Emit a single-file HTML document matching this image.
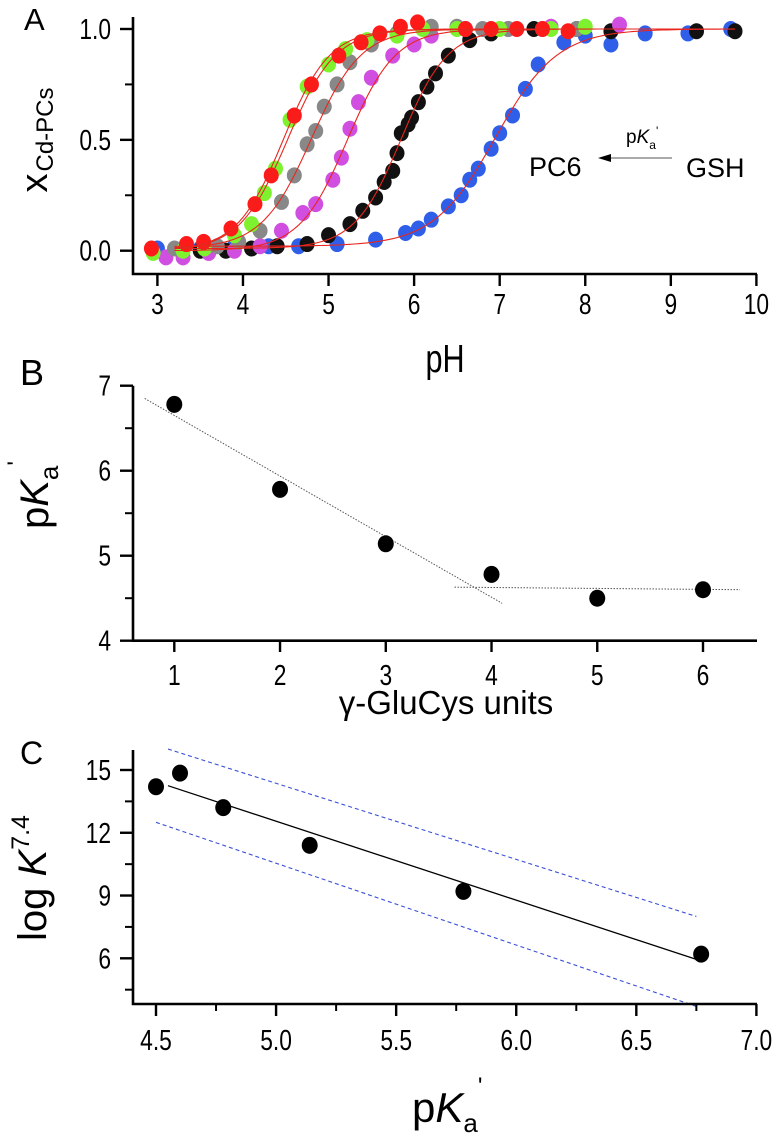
<!DOCTYPE html>
<html><head><meta charset="utf-8"><style>
html,body{margin:0;padding:0;background:#fff;}
svg{display:block;font-family:"Liberation Sans",sans-serif;}
</style></head><body>
<svg id="fig" width="776" height="1133" viewBox="0 0 776 1133" xmlns="http://www.w3.org/2000/svg">
<g id="A"></g>
<g id="B"></g>
<g id="C"></g>
</svg>
<script>
// ---------- Panel A data ----------
const seriesNames = ["GSH","PC2","PC3","PC4","PC6","PC5"];
const seriesColors = ["#2f5fe8","#111111","#d04ee0","#888888","#7ef22e","#ff1a1a"];
const phBlue = [3.0,3.5,3.9,4.3,4.65,5.1,5.55,5.9,6.05,6.2,6.4,6.55,6.65,6.75,6.9,7.0,7.15,7.3,7.45,7.75,8.0,8.3,8.7,9.2,9.7];
const xBlue  = [0.01,0.01,0.02,0.02,0.02,0.03,0.05,0.08,0.1,0.14,0.2,0.25,0.32,0.37,0.46,0.53,0.61,0.73,0.84,0.94,0.97,0.93,0.98,0.98,1.0];
const phBlack = [3.5,3.8,4.1,4.4,4.75,5.0,5.25,5.4,5.55,5.65,5.75,5.8,5.85,5.93,5.97,6.05,6.15,6.25,6.4,6.65,6.9,7.4,7.9,8.3,9.3,9.75];
const xBlack  = [0.0,0.0,0.01,0.02,0.03,0.07,0.12,0.18,0.24,0.31,0.36,0.44,0.53,0.57,0.6,0.67,0.74,0.8,0.88,0.95,0.98,1.0,1.0,0.99,0.99,0.99];
const phMag = [3.1,3.3,3.6,3.9,4.2,4.45,4.7,4.85,5.05,5.15,5.25,5.35,5.5,5.75,6.0,6.2,6.6,7.1,7.6,8.4];
const xMag  = [-0.03,-0.03,-0.01,0.0,0.02,0.09,0.17,0.21,0.32,0.42,0.55,0.67,0.78,0.88,0.93,0.97,1.0,1.0,1.01,1.02];
const phGray = [3.2,3.7,3.95,4.2,4.45,4.6,4.75,4.85,4.95,5.1,5.25,5.5,5.8,6.2,6.5,6.8,7.1,7.5,7.9];
const xGray  = [0.01,0.02,0.04,0.09,0.22,0.34,0.48,0.54,0.65,0.75,0.85,0.93,0.98,1.01,1.01,1.0,1.0,1.0,1.0];
const phGreen = [2.95,3.3,3.55,3.9,4.1,4.25,4.38,4.55,4.75,5.0,5.2,5.45,5.8,6.1,6.5,7.0,7.6,8.0];
const xGreen  = [-0.01,0.0,0.01,0.07,0.12,0.26,0.37,0.59,0.74,0.84,0.91,0.95,0.97,1.0,1.0,1.0,1.0,1.01];
const phRed = [2.93,3.34,3.54,3.86,4.14,4.33,4.6,4.8,5.12,5.38,5.6,5.84,6.04,6.6,6.9,7.2,7.5,7.8];
const xRed  = [0.01,0.03,0.04,0.10,0.21,0.34,0.61,0.75,0.88,0.94,0.98,1.01,1.03,1.0,1.0,1.0,1.0,0.99];
// fit parameters per series: midpoint pH, Hill n, baseline, end pH
const fitPka = [6.95,5.85,5.22,4.8,4.52,4.47];
const fitN   = [1.2,1.6,1.55,1.5,1.55,1.6];
const fitLow = [0.02,0.01,0.0,0.01,0.0,0.0];
const fitEnd = [9.75,9.75,8.4,8.0,8.0,7.8];
const aXTicks = [3,4,5,6,7,8,9,10];
const aYTicks = [0.0,0.5,1.0];
const aYTickLabels = ["0.0","0.5","1.0"];
// ---------- Panel B data ----------
const bUnits = [1,2,3,4,5,6];
const bPka = [6.78,5.78,5.14,4.78,4.5,4.6];
const bLine1X = [0.72,4.1], bLine1Y = [6.85,4.44];
const bLine2X = [3.65,6.35], bLine2Y = [4.63,4.6];
const bXTicks = [1,2,3,4,5,6];
const bYTicks = [4,5,6,7];
// ---------- Panel C data ----------
const cPka = [4.5,4.6,4.78,5.14,5.78,6.77];
const cLogK = [14.2,14.85,13.2,11.4,9.2,6.2];
const cFitX = [4.55,6.75], cFitY = [14.25,5.95];
const cUpX = [4.55,6.75], cUpY = [16.0,8.0];
const cLoX = [4.5,6.75], cLoY = [12.5,3.7];
const cXTicks = [4.5,5.0,5.5,6.0,6.5,7.0];
const cXTickLabels = ["4.5","5.0","5.5","6.0","6.5","7.0"];
const cYTicks = [6,9,12,15];

const NS="http://www.w3.org/2000/svg";
function mk(tag,attrs,parent){const e=document.createElementNS(NS,tag);for(const k in attrs)e.setAttribute(k,attrs[k]);parent.appendChild(e);return e;}
function lin(d0,d1,r0,r1){return v=>r0+(v-d0)*(r1-r0)/(d1-d0);}
function tickText(g,x,y,anchor,str){
 const t=mk('text',{transform:'translate('+x+','+y+') scale(0.95,1.18)','font-size':24,'text-anchor':anchor},g);
 t.textContent=str;
 return t;
}

// ===== Panel A =====
(function(){
 const g=document.getElementById('A');
 const X=lin(3,10,157.4,756.4), Y=lin(0,1,250.7,29);
 const P=[[phBlue,xBlue],[phBlack,xBlack],[phMag,xMag],[phGray,xGray],[phGreen,xGreen],[phRed,xRed]];
 P.forEach((s,i)=>{
  const sg=mk('g',{},g);
  
  
  s[0].forEach((p,j)=>{
   const c=mk('ellipse',{cx:X(p),cy:Y(s[1][j]),rx:7.5,ry:8,fill:seriesColors[i]},sg);
   
   
  });
 });
 fitPka.forEach((pk,i)=>{
  let d='';
  for(let p=3.2;p<=fitEnd[i]+1e-9;p+=0.05){
   const v=fitLow[i]+(1-fitLow[i])/(1+Math.pow(10,fitN[i]*(pk-p)));
   d+=(d?'L':'M')+X(p).toFixed(1)+','+Y(v).toFixed(1);
  }
  const l=mk('path',{d:d,fill:'none',stroke:'#e8261e','stroke-width':1.1},g);
  
  
 });
 const ax=mk('path',{d:'M133,17 V274 H757',fill:'none',stroke:'#000','stroke-width':2.6},g);
 
 
 aXTicks.forEach(t=>{
  mk('line',{x1:X(t),x2:X(t),y1:274,y2:286,stroke:'#000','stroke-width':2.4},g);
  const tx=tickText(g,X(t),314,'middle',t);
  
  
 });
 [0.25,0.75].forEach(t=>mk('line',{x1:125,x2:133,y1:Y(t),y2:Y(t),stroke:'#000','stroke-width':2},g));
 aYTicks.forEach((t,i)=>{
  mk('line',{x1:120,x2:133,y1:Y(t),y2:Y(t),stroke:'#000','stroke-width':2.4},g);
  const tx=tickText(g,111,Y(t)+10,'end',aYTickLabels[i]);
  
  
 });
})();

// ===== Panel B =====
(function(){
 const g=document.getElementById('B');
 const X=lin(1,6,174.3,703), Y=lin(4,7,640.7,385.7);
 const l1=mk('line',{x1:X(bLine1X[0]),y1:Y(bLine1Y[0]),x2:X(bLine1X[1]),y2:Y(bLine1Y[1]),stroke:'#555','stroke-width':1,'stroke-dasharray':'1.5,1.5'},g);
 
 
 const l2=mk('line',{x1:X(bLine2X[0]),y1:Y(bLine2Y[0]),x2:X(bLine2X[1]),y2:Y(bLine2Y[1]),stroke:'#555','stroke-width':1,'stroke-dasharray':'1.5,1.5'},g);
 
 
 bUnits.forEach((u,i)=>{
  const c=mk('ellipse',{cx:X(u),cy:Y(bPka[i]),rx:8,ry:8.5,fill:'#000'},g);
  
  
 });
 const ax=mk('path',{d:'M133,385.7 V640.7 H757',fill:'none',stroke:'#000','stroke-width':2.6},g);
 
 
 bXTicks.forEach(t=>{
  mk('line',{x1:X(t),x2:X(t),y1:640,y2:652,stroke:'#000','stroke-width':2.4},g);
  const tx=tickText(g,X(t),685,'middle',t);
  
  
 });
 [4.5,5.5,6.5].forEach(t=>mk('line',{x1:125,x2:133,y1:Y(t),y2:Y(t),stroke:'#000','stroke-width':2},g));
 bYTicks.forEach(t=>{
  mk('line',{x1:120,x2:133,y1:Y(t),y2:Y(t),stroke:'#000','stroke-width':2.4},g);
  const tx=tickText(g,111,Y(t)+10,'end',t);
  
  
 });
})();

// ===== Panel C =====
(function(){
 const g=document.getElementById('C');
 const X=lin(4.5,7.0,156,756.4), Y=lin(6,15,958.3,770);
 [[cUpX,cUpY,'upper-confidence-band'],[cLoX,cLoY,'lower-confidence-band']].forEach(b=>{
  const l=mk('line',{x1:X(b[0][0]),y1:Y(b[1][0]),x2:X(b[0][1]),y2:Y(b[1][1]),stroke:'#3a4fd6','stroke-width':1.1,'stroke-dasharray':'4,3'},g);
  
  
 });
 const f=mk('line',{x1:X(cFitX[0]),y1:Y(cFitY[0]),x2:X(cFitX[1]),y2:Y(cFitY[1]),stroke:'#000','stroke-width':1.3},g);
 
 
 cPka.forEach((p,i)=>{
  const c=mk('ellipse',{cx:X(p),cy:Y(cLogK[i]),rx:8,ry:8.5,fill:'#000'},g);
  
  
 });
 const ax=mk('path',{d:'M133,750 V1004 H757',fill:'none',stroke:'#000','stroke-width':2.6},g);
 
 
 cXTicks.forEach((t,i)=>{
  mk('line',{x1:X(t),x2:X(t),y1:1004,y2:1016,stroke:'#000','stroke-width':2.4},g);
  if(i<cXTicks.length-1){const m=t+0.25;mk('line',{x1:X(m),x2:X(m),y1:1004,y2:1011,stroke:'#000','stroke-width':2},g);}
  const tx=tickText(g,X(t),1050,'middle',cXTickLabels[i]);
  
  
 });
 [4.5,7.5,10.5,13.5].forEach(t=>mk('line',{x1:125,x2:133,y1:Y(t),y2:Y(t),stroke:'#000','stroke-width':2},g));
 cYTicks.forEach(t=>{
  mk('line',{x1:120,x2:133,y1:Y(t),y2:Y(t),stroke:'#000','stroke-width':2.4},g);
  const tx=tickText(g,111,Y(t)+10,'end',t);
  
  
 });
})();
</script>
<svg style="position:absolute;left:0;top:0" width="776" height="1133" xmlns="http://www.w3.org/2000/svg">
 <g font-family="Liberation Sans, sans-serif">
  <text x="24" y="30" font-size="31">A</text>
  <text x="20" y="385" font-size="36">B</text>
  <text x="20" y="764" font-size="32">C</text>
  <text transform="translate(47,140) rotate(-90)" text-anchor="middle" font-size="38">x<tspan font-size="24" dy="-4" dx="2" baseline-shift="-10">Cd-PCs</tspan></text>
  <text transform="translate(445,372) scale(0.9,1.15)" font-size="34" text-anchor="middle">pH</text>
  <g>
   <text x="529" y="176" font-size="27">PC6</text>
   <text x="686" y="177" font-size="27">GSH</text>
   <line x1="672" y1="158" x2="608" y2="158" stroke="#555" stroke-width="1"/>
   <polygon points="598,158 611,154 611,162" fill="#000"/>
   <text x="626" y="143" font-size="19">p<tspan font-style="italic">K</tspan><tspan font-size="12" dy="6">a</tspan><tspan font-size="12" dy="-14">'</tspan></text>
  </g>
  <text transform="translate(48,495) rotate(-90)" text-anchor="middle" font-size="40">p<tspan font-style="italic">K</tspan><tspan font-size="26" dy="10">a</tspan><tspan font-size="24" dy="-34">'</tspan></text>
  <text x="446" y="714" font-size="33" text-anchor="middle">γ-GluCys units</text>
  <text transform="translate(46,878) rotate(-90)" text-anchor="middle" font-size="40">log <tspan font-style="italic">K</tspan><tspan font-size="25" dy="-17">7.4</tspan></text>
  <text x="412" y="1122" font-size="42">p<tspan font-style="italic">K</tspan><tspan font-size="26" dy="10">a</tspan><tspan font-size="24" dy="-38">'</tspan></text>
 </g>
</svg>
</body></html>
